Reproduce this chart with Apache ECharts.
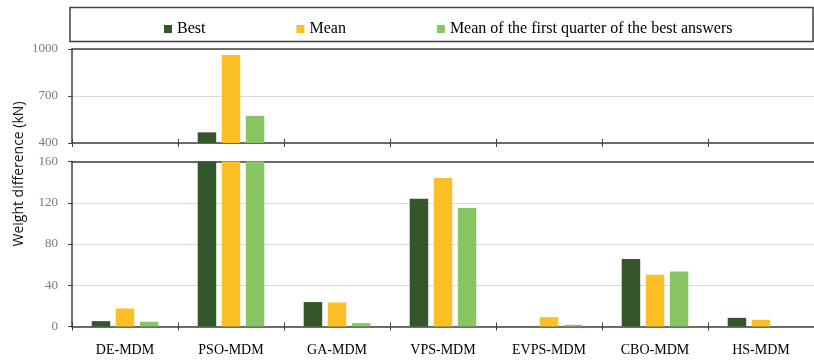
<!DOCTYPE html>
<html>
<head>
<meta charset="utf-8">
<script src="https://cdn.jsdelivr.net/npm/echarts@6/dist/echarts.min.js"></script>
<style>
  html, body { margin: 0; padding: 0; background: #fff; }
  #chart { width: 814px; height: 362px; }
</style>
</head>
<body>
<div id="chart"></div>
<script>
// Weight difference per method, in kN
const categories = ['DE-MDM', 'PSO-MDM', 'GA-MDM', 'VPS-MDM', 'EVPS-MDM', 'CBO-MDM', 'HS-MDM'];
const bestValues = [5.2, 468, 23.7, 124, 0, 65.4, 8.4];
const meanValues = [17.5, 962, 23.3, 144, 9.1, 50.1, 6.5];
const quarterValues = [4.6, 573, 3.3, 115, 1.6, 53.3, 0];

// Broken value axis: upper panel and lower panel ticks
const upperTicks = { min: 400, max: 1000, interval: 300 };
const lowerTicks = { min: 0, max: 160, interval: 40 };

const seriesNames = ['Best', 'Mean', 'Mean of the first quarter of the best answers'];
const seriesColors = ['#33572a', '#fdbf26', '#88c663'];
const seriesData = [bestValues, meanValues, quarterValues];

const SERIF = '"Liberation Serif", "Times New Roman", serif';
const AXIS_DARK = '#404040';

const chart = echarts.init(document.getElementById('chart'), null, { renderer: 'canvas' });

const gridLeft = 72;
const gridWidth = 752;

function catAxis(gridIndex, opts) {
  return Object.assign({
    type: 'category',
    gridIndex: gridIndex,
    data: categories,
    position: 'bottom',
    axisLine: { show: true, onZero: false, lineStyle: { color: AXIS_DARK, width: 1.5 } },
    axisTick: { show: true, inside: false, length: 4, lineStyle: { color: AXIS_DARK, width: 1 } },
    axisLabel: { show: false },
    splitLine: { show: false }
  }, opts);
}

function valAxis(gridIndex, ticks) {
  return {
    type: 'value',
    gridIndex: gridIndex,
    min: ticks.min,
    max: ticks.max,
    interval: ticks.interval,
    axisLine: { show: true, lineStyle: { color: AXIS_DARK, width: 1.5 } },
    axisTick: { show: true, length: 4, lineStyle: { color: AXIS_DARK, width: 1 } },
    axisLabel: {
      color: '#7a7a7a', fontFamily: SERIF, fontSize: 13, margin: 14,
      formatter: function (v) { return String(v); }
    },
    splitLine: { show: true, lineStyle: { color: '#d9d9d9', width: 1 } }
  };
}

const xAxes = [
  // upper panel: baseline with crossing ticks, and top border
  catAxis(0, {}),
  catAxis(0, { axisLine: { show: false, onZero: false }, axisTick: { show: true, inside: true, length: 4, lineStyle: { color: AXIS_DARK, width: 1 } } }),
  catAxis(0, { position: 'top', axisTick: { show: false } }),
  // lower panel
  catAxis(1, { axisLabel: { show: true, color: '#000', fontFamily: SERIF, fontSize: 14, margin: 17 } }),
  catAxis(1, { axisLine: { show: false, onZero: false }, axisTick: { show: true, inside: true, length: 4, lineStyle: { color: AXIS_DARK, width: 1 } } }),
  catAxis(1, { position: 'top', axisTick: { show: false } })
];

const series = [];
[0, 1].forEach(function (panel) {
  seriesData.forEach(function (values, i) {
    series.push({
      name: seriesNames[i],
      type: 'bar',
      xAxisIndex: panel === 0 ? 0 : 3,
      yAxisIndex: panel,
      data: values,
      barWidth: 18.5,
      barGap: '30%',
      clip: true,
      itemStyle: { color: seriesColors[i] },
      emphasis: { disabled: true }
    });
  });
});

chart.setOption({
  animation: false,
  backgroundColor: '#fff',
  color: seriesColors,
  legend: {
    data: seriesNames,
    left: 159,
    top: 16,
    icon: 'rect',
    itemWidth: 8,
    itemHeight: 8,
    itemGap: 91,
    textStyle: { color: '#000', fontFamily: SERIF, fontSize: 16 },
    selectedMode: false
  },
  grid: [
    { left: gridLeft, top: 49, width: gridWidth, height: 94 },
    { left: gridLeft, top: 161.5, width: gridWidth, height: 165 }
  ],
  xAxis: xAxes,
  yAxis: [valAxis(0, upperTicks), valAxis(1, lowerTicks)],
  series: series,
  graphic: [
    {
      type: 'rect',
      shape: { x: 70, y: 7.5, width: 743, height: 34 },
      style: { fill: 'none', stroke: AXIS_DARK, lineWidth: 1.5 },
      silent: true
    },
    {
      type: 'text',
      x: 19,
      y: 174,
      rotation: Math.PI / 2,
      style: {
        text: 'Weight difference (kN)',
        fill: '#111',
        font: '14px "Open Sans", sans-serif',
        align: 'center',
        verticalAlign: 'middle'
      },
      silent: true
    }
  ]
});
</script>
</body>
</html>
